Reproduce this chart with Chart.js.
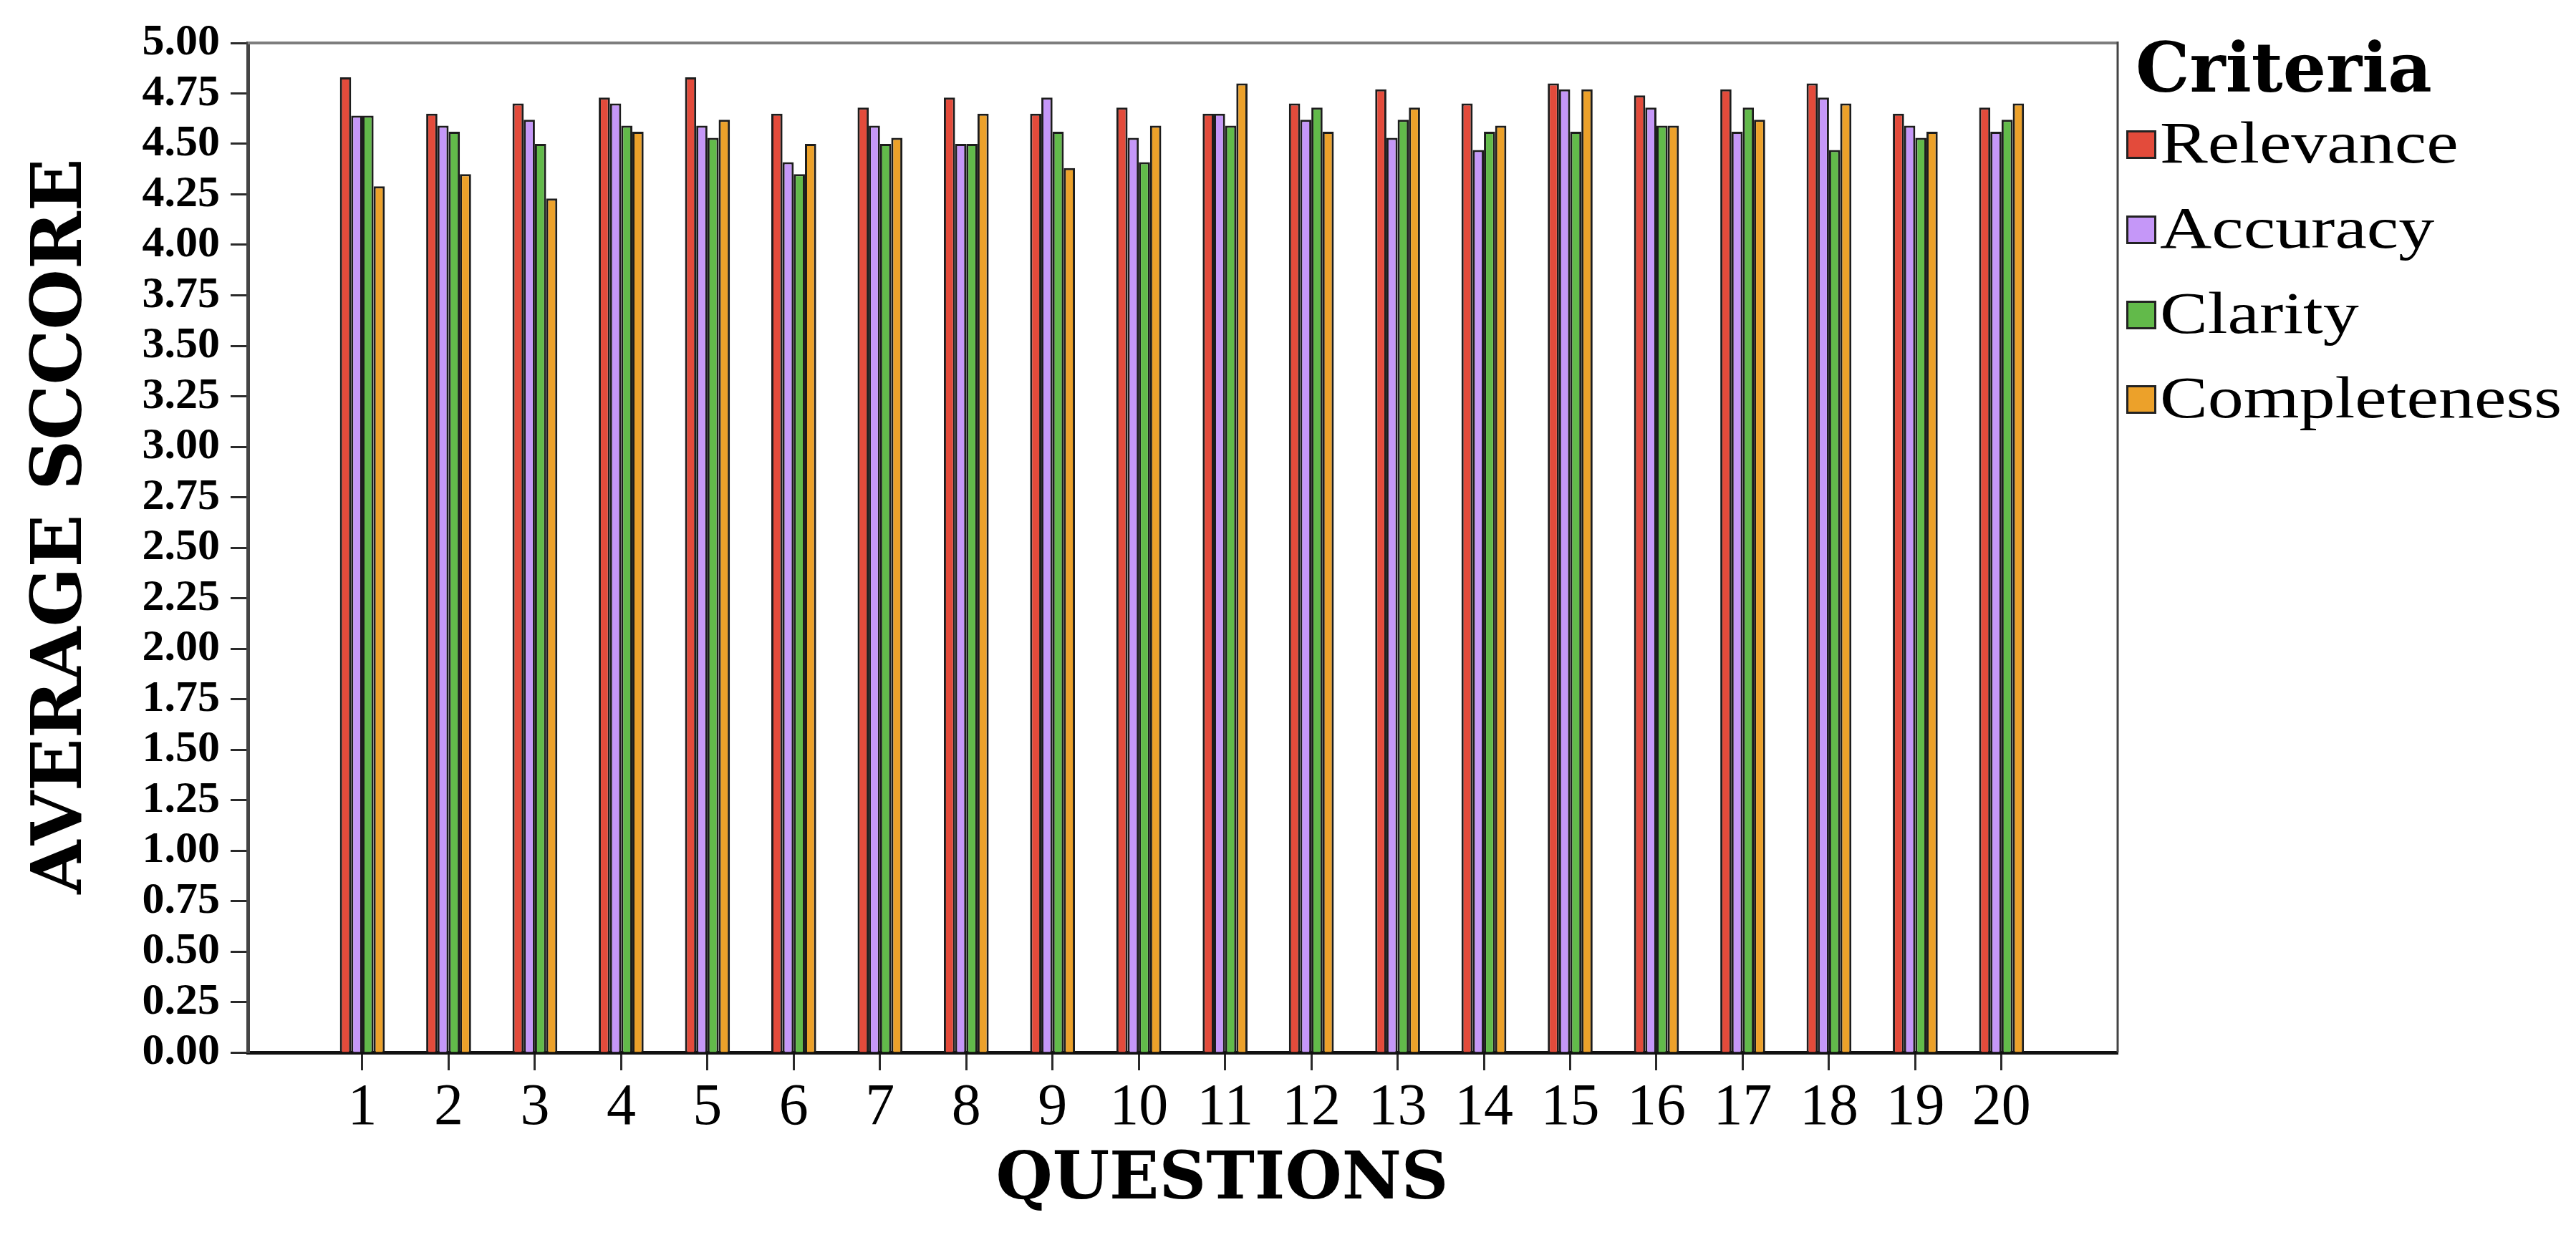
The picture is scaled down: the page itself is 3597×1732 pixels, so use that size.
<!DOCTYPE html>
<html>
<head>
<meta charset="utf-8">
<script src="https://cdn.jsdelivr.net/npm/chart.js@4/dist/chart.umd.min.js"></script>
<style>
  html, body { margin: 0; padding: 0; background: #fff; }
  #wrap { position: relative; width: 3597px; height: 1732px; overflow: hidden; }
  #chart { position: absolute; left: 0; top: 0; }
  .legend-title { position: absolute; left: 2982px; top: 47px; font: bold 95px/1 "DejaVu Serif", serif; color: #000; white-space: nowrap; }
  .legend-box { position: absolute; left: 2969px; width: 36px; height: 34px; border: 3px solid #222; box-sizing: content-box; }
  .legend-text { position: absolute; left: 3016px; font: 82px/1 "Liberation Serif", "Times New Roman", serif; color: #000; white-space: nowrap; transform: scaleX(1.22); transform-origin: left top; }
</style>
</head>
<body>
<div id="wrap">
  <canvas id="chart" width="3597" height="1732"></canvas>
  <div id="legend"></div>
</div>
<script>
// Data
const questions = [1, 2, 3, 4, 5, 6, 7, 8, 9, 10, 11, 12, 13, 14, 15, 16, 17, 18, 19, 20];
const questionLabels = ['1', '2', '3', '4', '5', '6', '7', '8', '9', '10', '11', '12', '13', '14', '15', '16', '17', '18', '19', '20'];
const seriesNames = ['Relevance', 'Accuracy', 'Clarity', 'Completeness'];
const relevance = [4.83, 4.65, 4.70, 4.73, 4.83, 4.65, 4.68, 4.73, 4.65, 4.68, 4.65, 4.70, 4.77, 4.70, 4.80, 4.74, 4.77, 4.80, 4.65, 4.68];
const accuracy = [4.64, 4.59, 4.62, 4.70, 4.59, 4.41, 4.59, 4.50, 4.73, 4.53, 4.65, 4.62, 4.53, 4.47, 4.77, 4.68, 4.56, 4.73, 4.59, 4.56];
const clarity = [4.64, 4.56, 4.50, 4.59, 4.53, 4.35, 4.50, 4.50, 4.56, 4.41, 4.59, 4.68, 4.62, 4.56, 4.56, 4.59, 4.68, 4.47, 4.53, 4.62];
const completeness = [4.29, 4.35, 4.23, 4.56, 4.62, 4.50, 4.53, 4.65, 4.38, 4.59, 4.80, 4.56, 4.68, 4.59, 4.77, 4.59, 4.62, 4.70, 4.56, 4.70];
const yTicks = [0, 0.25, 0.5, 0.75, 1, 1.25, 1.5, 1.75, 2, 2.25, 2.5, 2.75, 3, 3.25, 3.5, 3.75, 4, 4.25, 4.5, 4.75, 5];
const xTitle = 'QUESTIONS';
const yTitle = 'AVERAGE SCCORE';

const seriesValues = [relevance, accuracy, clarity, completeness];
const seriesColors = ['#e34b3b', '#c597f8', '#62ba4a', '#eca12a'];

// Legend (html, so it can sit right next to the frame)
const legendEl = document.getElementById('legend');
const rowCenters = [202, 321, 440, 558];
let html = '<div class="legend-title">Criteria</div>';
seriesNames.forEach((name, i) => {
    html += '<div class="legend-box" style="top:' + (rowCenters[i] - 20) + 'px;background:' + seriesColors[i] + '"></div>';
    html += '<div class="legend-text" style="top:' + (rowCenters[i] - 43) + 'px">' + name + '</div>';
});
legendEl.innerHTML = html;

// Top/right edges of the frame plus the two axis titles (the titles sit a bit off-centre in the original)
const framePlugin = {
    id: 'frame',
    afterDraw(chart) {
        const { ctx, chartArea } = chart;
        ctx.save();
        ctx.strokeStyle = '#7d7d7d';
        ctx.lineWidth = 4;
        ctx.beginPath();
        ctx.moveTo(chartArea.left, chartArea.top);
        ctx.lineTo(chartArea.right, chartArea.top);
        ctx.stroke();
        ctx.strokeStyle = '#444';
        ctx.lineWidth = 3;
        ctx.beginPath();
        ctx.moveTo(chartArea.right, chartArea.top - 2);
        ctx.lineTo(chartArea.right, chartArea.bottom);
        ctx.stroke();

        ctx.fillStyle = '#000';
        ctx.textAlign = 'center';
        ctx.textBaseline = 'middle';
        ctx.font = 'bold 91px "DejaVu Serif", serif';
        ctx.fillText(xTitle, (chartArea.left + chartArea.right) / 2 + 55, 1650);

        ctx.translate(88, (chartArea.top + chartArea.bottom) / 2 - 30);
        ctx.rotate(-Math.PI / 2);
        ctx.font = 'bold 97px "DejaVu Serif", serif';
        ctx.fillText(yTitle, 0, 0);
        ctx.restore();
    }
};

const datasets = seriesNames.map((name, i) => ({
    label: name,
    data: questions.map((q, j) => ({ x: q, y: seriesValues[i][j] })),
    backgroundColor: seriesColors[i],
    borderColor: '#1c1c1c',
    borderWidth: 3,
    categoryPercentage: 0.52,
    barPercentage: 1.0
}));

new Chart(document.getElementById('chart'), {
    type: 'bar',
    data: { datasets: datasets },
    plugins: [framePlugin],
    options: {
        responsive: false,
        animation: false,
        devicePixelRatio: 1,
        layout: { padding: { top: 60, right: 640, bottom: 0, left: 0 } },
        plugins: {
            legend: { display: false },
            tooltip: { enabled: false }
        },
        scales: {
            x: {
                type: 'linear',
                min: -0.328,
                max: 21.346,
                offset: false,
                afterBuildTicks: (axis) => {
                    axis.ticks = questions.map(q => ({ value: q }));
                },
                afterFit: (axis) => { axis.height = 262; },
                ticks: {
                    autoSkip: false,
                    maxRotation: 0,
                    padding: 4,
                    color: '#000',
                    font: { family: '"Liberation Serif", serif', size: 82 },
                    callback: (value) => questionLabels[questions.indexOf(value)]
                },
                grid: {
                    offset: false,
                    drawOnChartArea: false,
                    drawTicks: true,
                    tickLength: 25,
                    tickWidth: 3,
                    color: '#2a2a2a',
                    tickColor: '#2a2a2a'
                },
                border: { display: true, color: '#111', width: 5 }
            },
            y: {
                min: 0,
                max: 5,
                afterBuildTicks: (axis) => {
                    axis.ticks = yTicks.map(v => ({ value: v }));
                },
                afterFit: (axis) => { axis.width = 346; },
                ticks: {
                    autoSkip: false,
                    padding: 15,
                    color: '#000',
                    font: { family: '"Liberation Serif", serif', weight: 'bold', size: 62 },
                    callback: (value) => value.toFixed(2)
                },
                grid: {
                    drawOnChartArea: false,
                    drawTicks: true,
                    tickLength: 24,
                    tickWidth: 3,
                    color: '#2a2a2a',
                    tickColor: '#2a2a2a'
                },
                border: { display: true, color: '#444', width: 5 }
            }
        }
    }
});
</script>
</body>
</html>
